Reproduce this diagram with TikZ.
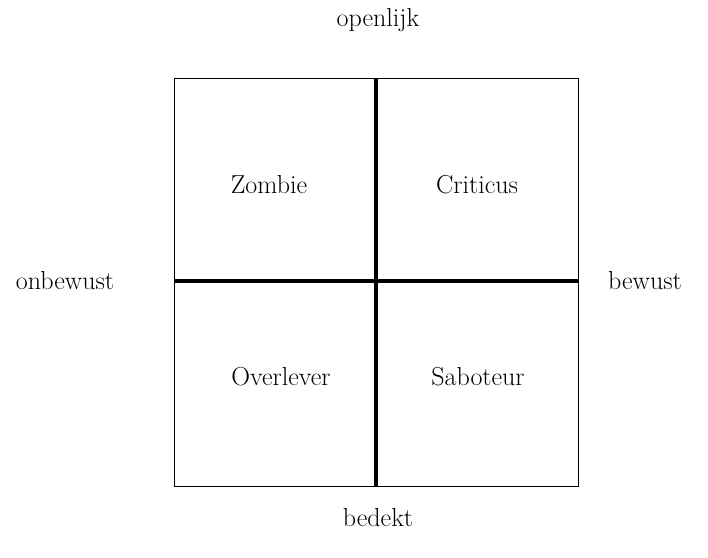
\documentclass[tikz,border=0pt]{standalone}
\usepackage{tikz}
\tikzset{lbl/.style={inner sep=0pt,font=\fontsize{26}{30}\selectfont}}
\tikzset{thin edge/.style={line width=1pt}}
\tikzset{thick edge/.style={line width=3.5pt}}

\begin{document}
\begin{tikzpicture}[x=1pt,y=-1pt]
                    \useasboundingbox (0,0) rectangle (708,557);
                    \coordinate (NW) at (174,78);
                    \coordinate (SE) at (578,486);
                    \coordinate (T) at (376,78);
                    \coordinate (B) at (376,486);
                    \coordinate (L) at (174,281);
                    \coordinate (R) at (578,281);

                    \node[lbl] (open) at (378,20) {openlijk};
                    \node[lbl] (bed) at (378,518) {bedekt};
                    \node[lbl] (onb) at (65,281) {onbewust};
                    \node[lbl] (bew) at (645,281) {bewust};

                    \node[lbl] (Z) at (269,185) {Zombie};
                    \node[lbl] (C) at (477,185) {Criticus};
                    \node[lbl] (O) at (281,377) {Overlever};
                    \node[lbl] (S) at (478,377) {Saboteur};

                    \draw[thin edge] (NW) rectangle (SE);
                    \draw[thick edge] (T) -- (B);
                    \draw[thick edge] (L) -- (R);
                \end{tikzpicture}
\end{document}
